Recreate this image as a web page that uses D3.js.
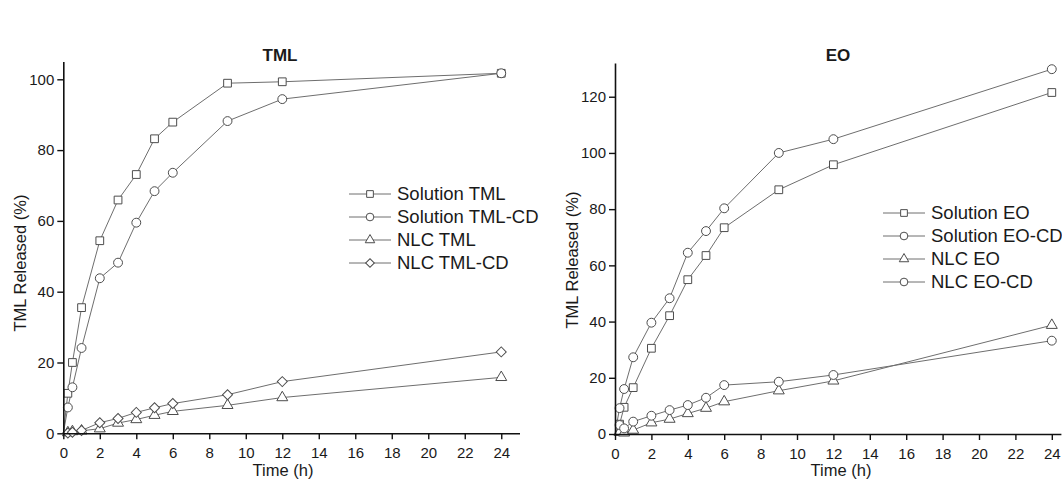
<!DOCTYPE html>
<html>
<head>
<meta charset="utf-8">
<script src="https://cdn.jsdelivr.net/npm/d3@7"></script>
<style>
  html, body { margin: 0; padding: 0; background: #fff; }
  svg { display: block; }
  text { font-family: Arial, "Liberation Sans", sans-serif; fill: #1a1a1a; }
</style>
</head>
<body>
<svg id="chart" width="1062" height="483"></svg>
<script>
// Sampling times (h), shared by both panels
const times = [0, 0.25, 0.5, 1, 2, 3, 4, 5, 6, 9, 12, 24];

// TML panel: cumulative release (%)
const solutionTML   = [0, 11.3, 20.0, 35.5, 54.4, 65.9, 73.1, 83.2, 87.9, 98.9, 99.3, 101.7];
const solutionTMLCD = [0, 7.3, 13.0, 24.1, 43.8, 48.2, 59.5, 68.4, 73.6, 88.2, 94.4, 101.7];
const nlcTML        = [0, 0.2, 0.5, 0.7, 1.3, 2.9, 3.9, 5.1, 6.2, 7.9, 10.1, 15.8];
const nlcTMLCD      = [0, 0.1, 0.3, 0.8, 3.0, 4.2, 5.9, 7.2, 8.4, 10.9, 14.6, 23.0];

// EO panel: cumulative release (%)
const solutionEO   = [0, 3.5, 9.5, 16.5, 30.5, 42.1, 54.9, 63.5, 73.4, 86.9, 95.8, 121.5];
const solutionEOCD = [0, 9.2, 16.0, 27.3, 39.6, 48.3, 64.5, 72.2, 80.3, 100.0, 104.9, 129.8];
const nlcEO        = [0, 0.6, 0.4, 1.4, 4.0, 5.3, 7.3, 9.2, 11.5, 15.4, 18.9, 38.7];
const nlcEOCD      = [0, 3.2, 2.0, 4.4, 6.5, 8.5, 10.3, 12.9, 17.4, 18.6, 21.0, 33.2];

// Tick values
const xTicks = [0, 2, 4, 6, 8, 10, 12, 14, 16, 18, 20, 22, 24];
const yTicksTML = [0, 20, 40, 60, 80, 100];
const yTicksEO = [0, 20, 40, 60, 80, 100, 120];

const svg = d3.select("#chart");

const shapes = {
  square:   { type: d3.symbolSquare,  size: 60, rotate: 0 },
  circle:   { type: d3.symbolCircle,  size: 62, rotate: 0 },
  triangle: { type: d3.symbolTriangle, size: 52, rotate: 0 },
  diamond:  { type: d3.symbolSquare,  size: 50, rotate: 45 }
};

function marker(g, shape, x, y, scale) {
  const s = shapes[shape];
  g.append("path")
    .attr("d", d3.symbol().type(s.type).size(s.size * (scale || 1))())
    .attr("transform", `translate(${x},${y}) rotate(${s.rotate})`)
    .attr("fill", "#fff")
    .attr("stroke", "#4d4d4d")
    .attr("stroke-width", 1);
}

function panel(cfg) {
  const x = d3.scaleLinear().domain(cfg.xDomain).range(cfg.xRange);
  const y = d3.scaleLinear().domain(cfg.yDomain).range(cfg.yRange);
  const g = svg.append("g");

  // series lines, then markers on top
  const line = d3.line().x(d => x(d[0])).y(d => y(d[1]));
  cfg.series.forEach(s => {
    const pts = times.map((t, i) => [t, s.values[i]]);
    g.append("path")
      .attr("d", line(pts))
      .attr("fill", "none")
      .attr("stroke", "#6e6e6e")
      .attr("stroke-width", 1);
  });
  cfg.series.forEach(s => {
    times.forEach((t, i) => {
      if (t === 0) return;
      marker(g, s.shape, x(t), y(s.values[i]));
    });
  });

  // axes
  const xAxis = g.append("g")
    .attr("transform", `translate(0,${cfg.yRange[0]})`)
    .call(d3.axisBottom(x).tickValues(xTicks).tickSize(6).tickPadding(8).tickSizeOuter(0));
  const yAxis = g.append("g")
    .attr("transform", `translate(${cfg.xRange[0]},0)`)
    .call(d3.axisLeft(y).tickValues(cfg.yTicks).tickSize(6).tickPadding(3).tickSizeOuter(0));
  [xAxis, yAxis].forEach(a => {
    a.select(".domain").attr("stroke", "#111").attr("stroke-width", 1.6);
    a.selectAll(".tick line").attr("stroke", "#111").attr("stroke-width", 1.4);
    a.selectAll(".tick text")
      .attr("font-size", 15)
      .attr("font-family", "Arial, 'Liberation Sans', sans-serif")
      .attr("fill", "#1a1a1a");
  });

  // titles
  g.append("text")
    .attr("x", cfg.titleX).attr("y", 61)
    .attr("text-anchor", "middle")
    .attr("font-size", 17).attr("font-weight", "bold")
    .text(cfg.title);
  g.append("text")
    .attr("x", cfg.titleX + 3).attr("y", 476)
    .attr("text-anchor", "middle")
    .attr("font-size", 16.5)
    .text("Time (h)");
  g.append("text")
    .attr("transform", `translate(${cfg.yLabelX},${cfg.yLabelY}) rotate(-90)`)
    .attr("text-anchor", "middle")
    .attr("font-size", 16.5)
    .text("TML Released (%)");

  // legend
  const lg = g.append("g");
  cfg.series.forEach((s, i) => {
    const yy = cfg.legendY + i * 23;
    lg.append("line")
      .attr("x1", cfg.legendX).attr("x2", cfg.legendX + 42)
      .attr("y1", yy).attr("y2", yy)
      .attr("stroke", "#6e6e6e").attr("stroke-width", 1);
    marker(lg, s.shape, cfg.legendX + 21, yy, 0.75);
    lg.append("text")
      .attr("x", cfg.legendX + 48).attr("y", yy)
      .attr("dy", "0.35em")
      .attr("font-size", 18.5)
      .text(s.name);
  });
}

panel({
  title: "TML",
  titleX: 280,
  xDomain: [0, 25], xRange: [63.3, 519.5],
  yDomain: [0, 105], yRange: [433.3, 61.6],
  yTicks: yTicksTML,
  yLabelX: 26, yLabelY: 263,
  legendX: 349, legendY: 194,
  series: [
    { name: "Solution TML",    values: solutionTML,   shape: "square" },
    { name: "Solution TML-CD", values: solutionTMLCD, shape: "circle" },
    { name: "NLC TML",         values: nlcTML,        shape: "triangle" },
    { name: "NLC TML-CD",      values: nlcTMLCD,      shape: "diamond" }
  ]
});

panel({
  title: "EO",
  titleX: 838,
  xDomain: [0, 24.5], xRange: [615, 1060.9],
  yDomain: [0, 132], yRange: [434, 63],
  yTicks: yTicksEO,
  yLabelX: 578, yLabelY: 260,
  legendX: 883, legendY: 213,
  series: [
    { name: "Solution EO",    values: solutionEO,   shape: "square" },
    { name: "Solution EO-CD", values: solutionEOCD, shape: "circle" },
    { name: "NLC EO",         values: nlcEO,        shape: "triangle" },
    { name: "NLC EO-CD",      values: nlcEOCD,      shape: "circle" }
  ]
});
</script>
</body>
</html>
